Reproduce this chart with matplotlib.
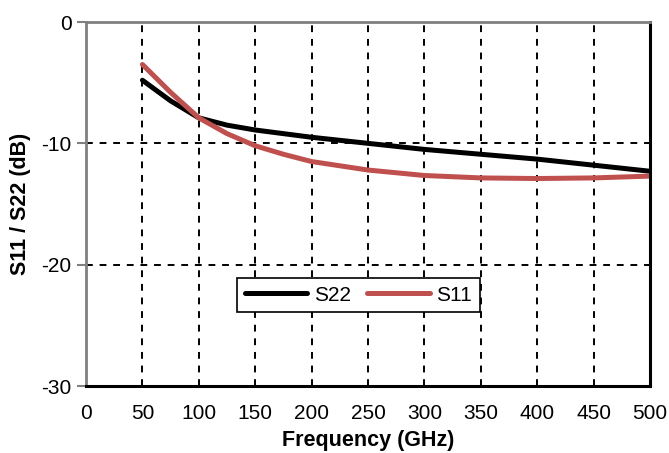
import matplotlib
matplotlib.use("Agg")
import matplotlib.pyplot as plt

plt.rcParams["font.family"] = ["Liberation Sans", "DejaVu Sans"]
plt.rcParams["axes.unicode_minus"] = False

freq = [50, 75, 100, 125, 150, 175, 200, 250, 300, 350, 400, 450, 500]
s22 = [-4.8, -6.5, -7.9, -8.5, -8.9, -9.2, -9.5, -10.0, -10.5, -10.9, -11.3, -11.8, -12.3]
s11 = [-3.5, -5.8, -7.9, -9.2, -10.2, -10.9, -11.5, -12.2, -12.65, -12.85, -12.9, -12.85, -12.7]

xticks = [0, 50, 100, 150, 200, 250, 300, 350, 400, 450, 500]
yticks = [0, -10, -20, -30]

fig = plt.figure(figsize=(6.69, 4.53), dpi=100)
ax = fig.add_axes([0.1286, 0.1479, 0.8430, 0.8035])

ax.plot(freq, s22, color="black", lw=3.6, label="S22", solid_capstyle="round")
ax.plot(freq, s11, color="#c0504d", lw=3.6, label="S11", solid_capstyle="round")

ax.set_xlim(0, 500)
ax.set_ylim(-30, 0)
ax.set_xticks(xticks)
ax.set_yticks(yticks)
ax.grid(True, color="black", ls=(0, (3.5, 3.5)), lw=1.4)

for side in ("left", "top"):
    ax.spines[side].set_color("#808080")
    ax.spines[side].set_linewidth(2.0)
for side in ("right", "bottom"):
    ax.spines[side].set_color("black")
    ax.spines[side].set_linewidth(2.2)

ax.tick_params(axis="x", length=0, labelsize=15, pad=13)
ax.tick_params(axis="y", length=6.5, width=1.5, color="#808080", labelsize=15, pad=4)

ax.set_xlabel("Frequency (GHz)", fontsize=15.5, fontweight="bold", labelpad=5)
ax.set_ylabel("S11 / S22 (dB)", fontsize=15.5, fontweight="bold", labelpad=7)

leg = ax.legend(loc="center", bbox_to_anchor=(0.483, 0.25), ncol=2, fontsize=15,
                frameon=True, fancybox=False, handlelength=3.0, handletextpad=0.3,
                columnspacing=0.8, borderpad=0.38, borderaxespad=0)
leg.get_frame().set_edgecolor("black")
leg.get_frame().set_linewidth(1.2)
leg.get_frame().set_alpha(1)

fig.savefig("out.png", dpi=100)
